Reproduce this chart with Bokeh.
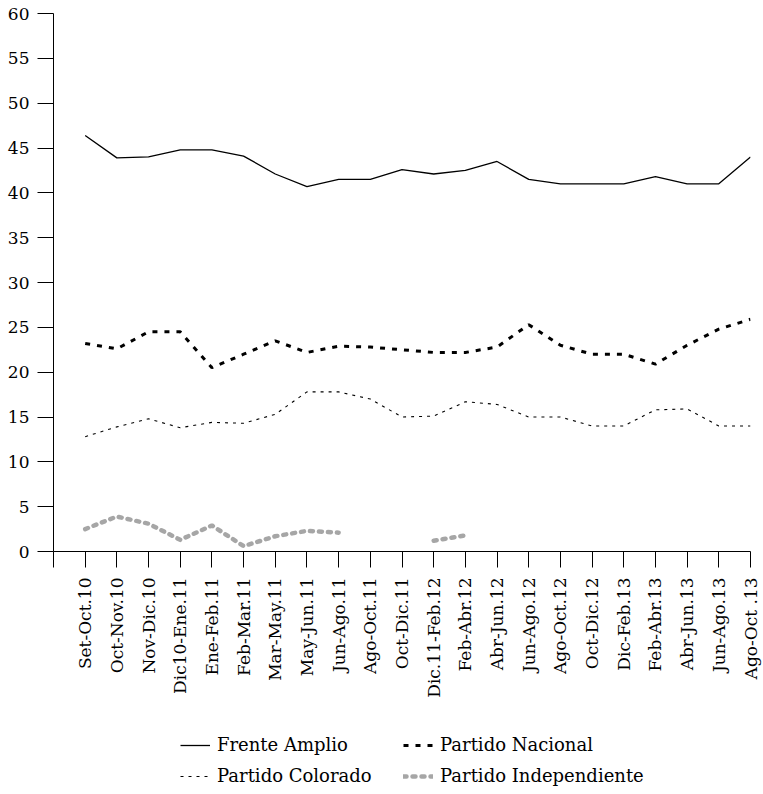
import math
import numpy as np
from bokeh.plotting import figure
from bokeh.layouts import column
from bokeh.models import Range1d, FixedTicker, Legend, LegendItem
from bokeh.embed import file_html
from bokeh.resources import INLINE

periods = ["Set-Oct.10", "Oct-Nov.10", "Nov-Dic.10", "Dic10-Ene.11", "Ene-Feb.11",
           "Feb-Mar.11", "Mar-May.11", "May-Jun.11", "Jun-Ago.11", "Ago-Oct.11",
           "Oct-Dic.11", "Dic.11-Feb.12", "Feb-Abr.12", "Abr-Jun.12", "Jun-Ago.12",
           "Ago-Oct.12", "Oct-Dic.12", "Dic-Feb.13", "Feb-Abr.13", "Abr-Jun.13",
           "Jun-Ago.13", "Ago-Oct .13"]

frente_amplio = [46.4, 43.9, 44.0, 44.8, 44.8, 44.1, 42.1, 40.7, 41.5, 41.5, 42.6,
                 42.1, 42.5, 43.5, 41.5, 41.0, 41.0, 41.0, 41.8, 41.0, 41.0, 44.0]
partido_nacional = [23.2, 22.6, 24.5, 24.5, 20.5, 22.0, 23.5, 22.2, 22.9, 22.8, 22.5,
                    22.2, 22.2, 22.8, 25.3, 23.0, 22.0, 22.0, 20.9, 23.0, 24.8, 25.9]
partido_colorado = [12.8, 13.9, 14.8, 13.8, 14.4, 14.3, 15.3, 17.8, 17.8, 17.0, 15.0,
                    15.1, 16.7, 16.4, 15.0, 15.0, 14.0, 14.0, 15.8, 15.9, 14.0, 14.0]
partido_independiente = [2.5, 3.9, 3.1, 1.3, 2.9, 0.6, 1.7, 2.3, 2.1, None, None,
                         1.2, 1.8, None, None, None, None, None, None, None, None, None]
series_names = ["Frente Amplio", "Partido Nacional", "Partido Colorado", "Partido Independiente"]

y_ticks = list(range(0, 61, 5))

x = list(range(len(periods)))
indep = [np.nan if v is None else v for v in partido_independiente]

FONT = "DejaVu Serif"

styles = [
    dict(line_color="black", line_width=1.3),
    dict(line_color="black", line_width=3, line_dash="5 7"),
    dict(line_color="black", line_width=1.1, line_dash="3 5"),
    dict(line_color="#a6a6a6", line_width=4.5, line_dash="3 6", line_cap="round"),
]

p = figure(width=763, height=732, output_backend="svg", toolbar_location=None,
           x_range=Range1d(-1, len(periods) - 1), y_range=Range1d(0, 60),
           min_border_left=53, min_border_top=13, min_border_right=13, min_border_bottom=181)
p.outline_line_color = None
p.xgrid.visible = False
p.ygrid.visible = False

for ys, st in zip([frente_amplio, partido_nacional, partido_colorado, indep], styles):
    p.line(x, ys, **st)

p.xaxis.ticker = FixedTicker(ticks=list(range(-1, len(periods))))
overrides = {-1: ""}
for i, lab in enumerate(periods):
    overrides[i] = lab
p.xaxis.major_label_overrides = overrides
p.xaxis.major_label_orientation = math.pi / 2
p.yaxis.ticker = FixedTicker(ticks=y_ticks)

for ax in (p.xaxis, p.yaxis):
    ax.axis_line_color = "black"
    ax.axis_line_width = 1
    ax.major_tick_line_color = "black"
    ax.major_tick_in = 0
    ax.major_tick_out = 16
    ax.minor_tick_line_color = None
    ax.major_label_text_font = FONT
    ax.major_label_text_font_size = "17px"
    ax.major_label_text_color = "black"
p.xaxis.major_label_standoff = 10
p.yaxis.major_label_standoff = 8

# legend strip below the chart (legend-only renderers hold no visible data)
q = figure(width=763, height=62, output_backend="svg", toolbar_location=None,
           x_axis_type=None, y_axis_type=None,
           x_range=Range1d(0, 1), y_range=Range1d(0, 1),
           min_border_left=0, min_border_right=0, min_border_top=0, min_border_bottom=0)
q.outline_line_color = None
q.xgrid.visible = False
q.ygrid.visible = False
legend_renderers = [q.line([np.nan, np.nan], [np.nan, np.nan], **st) for st in styles]

legend = Legend(items=[LegendItem(label=n, renderers=[r]) for n, r in zip(series_names, legend_renderers)],
                ncols=2, location=(127, 8), orientation="horizontal")
legend.label_text_font = FONT
legend.label_text_font_size = "18px"
legend.label_text_color = "black"
legend.glyph_width = 30
legend.glyph_height = 20
legend.label_height = 20
legend.label_width = 176
legend.label_standoff = 7
legend.spacing = 10
legend.padding = 0
legend.margin = 0
legend.border_line_color = None
legend.background_fill_alpha = 0
q.add_layout(legend, "center")

layout = column(p, q, spacing=0)
open("out.html", "w").write(file_html(layout, INLINE))
